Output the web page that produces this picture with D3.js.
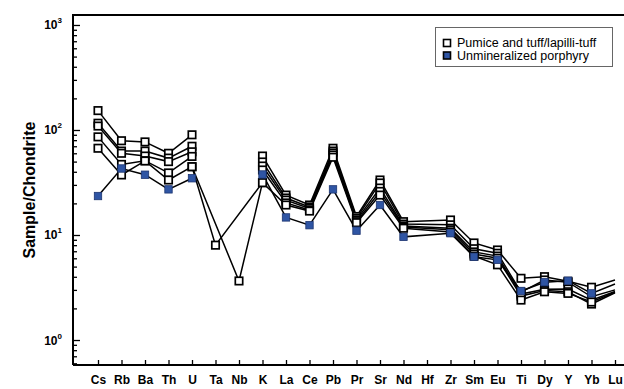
<!DOCTYPE html>
<html><head><meta charset="utf-8">
<script src="https://cdn.jsdelivr.net/npm/d3@7"></script>
<style>
html,body{margin:0;padding:0;background:#fff;}
svg{display:block;font-family:"Liberation Sans",Arial,Helvetica,sans-serif;}
</style></head>
<body><svg id="c" width="624" height="389"></svg>
<script>
const categories = ["Cs","Rb","Ba","Th","U","Ta","Nb","K","La","Ce","Pb","Pr","Sr","Nd","Hf","Zr","Sm","Eu","Ti","Dy","Y","Yb","Lu"];
// Pumice and tuff/lapilli-tuff samples
const pumice1 = [153,79,77,60,90,null,null,56.5,24.0,19.3,67,15.0,33.4,13.4,null,13.9,8.4,7.2,3.87,4.01,3.62,3.18,3.73];
const pumice2 = [116,63,63,54,70,null,null,49.6,22.5,18.5,63,14.4,31.3,12.7,null,12.5,7.4,6.7,2.86,3.73,3.55,2.58,3.0];
const pumice3 = [109,60,56.5,50,62,null,null,45.4,21.5,17.9,60.4,13.9,28,12.2,null,11.6,6.9,6.3,2.74,3.04,3.06,2.40,2.9];
const pumice4 = [86,47,51,39,56,null,null,41.6,20.2,17.3,57.8,13.4,26,11.9,null,11.2,6.6,6.0,2.62,2.96,2.88,2.20,2.82];
const pumice5 = [67,37.3,50.7,33.4,44.7,8.0,null,31.5,19.3,16.9,55,13.1,24,11.6,null,10.7,6.3,5.2,2.40,2.88,2.78,2.30,2.85];
const pumice6 = [null,null,null,null,44.7,null,3.65,31.5,null,null,null,null,null,null,null,null,null,null,null,null,null,null,null];
// Unmineralized porphyry
const porphyry = [23.5,43,37.5,27.2,34.7,null,null,37.7,14.7,12.4,27.2,11.0,19.3,9.6,null,10.4,6.2,5.8,2.93,3.55,3.67,2.78,3.41];
const yTickValues = [1,10,100,1000];
const legendLabels = ["Pumice and tuff/lapilli-tuff","Unmineralized porphyry"];

const svg = d3.select("#c");
const L = 73, T = 15, R = 640, B = 365;
const x = d3.scalePoint().domain(categories).range([98, 615]);
const y = d3.scaleLog().domain([Math.pow(10,-0.238), Math.pow(10,3.095)]).range([B, T]);

const blue = "#2f55a4";

svg.append("defs").append("clipPath").attr("id","mk").append("rect")
  .attr("x",0).attr("y",0).attr("width",610).attr("height",389);

// frame
svg.append("path").attr("d", `M${L},${B}V${T}H${R}`).attr("fill","none").attr("stroke","#000").attr("stroke-width",2);

// y axis ticks (inside)
const minor = [];
for (let e=-1; e<=3; e++) for (let m=2; m<=9; m++) { const v=m*Math.pow(10,e); if (v>y.domain()[0] && v<y.domain()[1]) minor.push(v); }
const gyMinor = svg.append("g").attr("transform",`translate(${L},0)`)
  .call(d3.axisRight(y).tickValues(minor).tickSize(4).tickFormat(""));
const gy = svg.append("g").attr("transform",`translate(${L},0)`)
  .call(d3.axisRight(y).tickValues(yTickValues).tickSize(7).tickFormat(""));
[gyMinor, gy].forEach(g => { g.select(".domain").remove(); g.selectAll("line").attr("stroke","#000").attr("stroke-width",1.3); });

// y tick labels 10^n
const yl = svg.append("g");
yTickValues.forEach(v => {
  const t = yl.append("text").attr("x", 62).attr("y", y(v)+4.5).attr("text-anchor","end")
    .attr("font-size",12).attr("font-weight","bold");
  t.append("tspan").text("10");
  t.append("tspan").attr("dy",-6).attr("font-size",8).text(String(Math.round(Math.log10(v))));
});

// y label
svg.append("text").attr("transform",`translate(35,${(T+B)/2}) rotate(-90)`).attr("text-anchor","middle")
  .attr("font-size",16).attr("font-weight","bold").text("Sample/Chondrite");

// x axis
const gx = svg.append("g").attr("transform",`translate(0,${B})`)
  .call(d3.axisBottom(x).tickSize(-5).tickPadding(10));
gx.select(".domain").remove();
gx.selectAll("line").attr("stroke","#000").attr("stroke-width",1.3);
gx.selectAll("text").attr("font-size",12).attr("font-weight","bold").attr("fill","#000").style("font-family","'Liberation Sans',Arial,sans-serif");
gx.append("line").attr("x1",L).attr("x2",R).attr("stroke","#000").attr("stroke-width",2);

// data lines
const line = d3.line().defined(d => d.v != null).x(d => x(d.c)).y(d => y(d.v));
function toPts(arr){ return categories.map((c,i)=>({c, v: arr[i]})); }
function drawLine(arr){
  let pts = toPts(arr).filter(d=>d.c!=="Hf");
  const hasTaNb = arr[categories.indexOf("Ta")] != null || arr[categories.indexOf("Nb")] != null;
  if (hasTaNb) pts = pts.filter(d => d.v != null); // connect through the unanalysed element
  svg.append("path").datum(pts)
    .attr("d", line).attr("fill","none").attr("stroke","#000").attr("stroke-width",1.5);
}
const pumiceSeries = [pumice1,pumice2,pumice3,pumice4,pumice5,pumice6];
pumiceSeries.forEach(drawLine);
drawLine(porphyry);

const allMarkers = [];
pumiceSeries.forEach(s => toPts(s).filter(d=>d.v!=null).forEach(d=>allMarkers.push({...d, f:"#fff"})));
toPts(porphyry).filter(d=>d.v!=null).forEach(d=>allMarkers.push({...d, f:blue}));
svg.append("g").attr("clip-path","url(#mk)").selectAll("rect").data(allMarkers).join("rect")
  .attr("x", d => x(d.c)-3.7).attr("y", d => y(d.v)-3.7).attr("width",7.4).attr("height",7.4)
  .attr("fill", d=>d.f).attr("stroke", d => d.f==="#fff" ? "#000" : "#1d3570").attr("stroke-width", d => d.f==="#fff"?1.7:0.8);

// legend
const lg = svg.append("g");
lg.append("rect").attr("x",435.5).attr("y",27.5).attr("width",177).attr("height",39).attr("fill","#fff").attr("stroke","#666").attr("stroke-width",1);
[["#fff",43],[blue,55.5]].forEach(([f,cy],i)=>{
  lg.append("rect").attr("x",443.5).attr("y",cy-3.5).attr("width",7).attr("height",7).attr("fill",f).attr("stroke","#000").attr("stroke-width",1.6);
  lg.append("text").attr("x",457).attr("y",cy+4.3).attr("font-size",12.5).text(legendLabels[i]);
});
</script></body></html>
